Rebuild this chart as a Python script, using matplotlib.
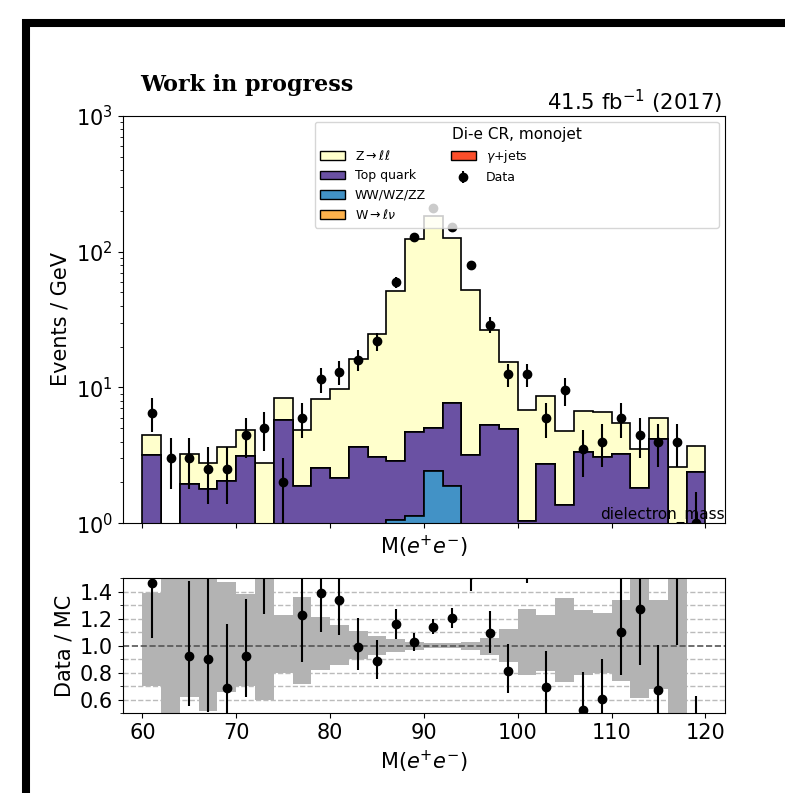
import numpy as np
import matplotlib
matplotlib.use("Agg")
import matplotlib.pyplot as plt
from matplotlib.lines import Line2D
from matplotlib.patches import Patch, Rectangle

# binning: 2 GeV bins from 60 to 120
edges = np.arange(60, 122, 2)
centers = edges[:-1] + 1

# MC components (Events / GeV)
w_lnu = [0.0] * 30
gamma_jets = [0.0] * 30
diboson = [0, 0, 0, 0, 0, 0, 0, 0, 0, 0, 0, 0, 0, 1.06, 1.13, 2.42, 1.88,
           0, 0, 0, 0, 0, 0, 0, 0, 0, 0, 0, 0, 0]
top_quark = [3.2, 0, 1.94, 1.78, 2.05, 3.11, 0, 5.72, 1.87, 2.55, 2.15, 3.64, 3.06, 1.80, 3.56,
             2.60, 5.79, 3.16, 5.26, 4.91, 1.04, 2.72, 1.37, 3.34, 3.07, 3.25, 1.83, 4.2, 0, 2.38]
z_ll = [1.25, 0.4, 1.31, 1.0, 1.57, 1.78, 2.78, 2.63, 3.02, 5.71, 7.57, 12.46, 21.74, 48.54, 119.31,
        178.98, 118.33, 48.54, 21.34, 10.49, 5.81, 5.91, 3.40, 3.35, 3.56, 2.21, 1.71, 1.75, 2.6, 1.32]

# data (Events / GeV)
data = [6.5, 3.0, 3.0, 2.5, 2.5, 4.5, 5.0, 2.0, 6.0, 11.5, 13.0, 16.0, 22.0, 59.5, 127.0,
        210.0, 151.5, 79.0, 29.0, 12.5, 12.5, 6.0, 9.5, 3.5, 4.0, 6.0, 4.5, 4.0, 4.0, 1.0]

# MC uncertainty band in the ratio (upper / lower edge)
band_hi = [1.39, 2.0, 2.0, 2.0, 1.47, 1.38, 2.0, 1.23, 1.36, 1.21, 1.15, 1.11, 1.07, 1.05, 1.03,
           1.02, 1.02, 1.03, 1.06, 1.12, 1.27, 1.23, 1.35, 1.26, 1.24, 1.34, 2.0, 1.34, 2.0, 1.0]
band_lo = [0.70, 0.0, 0.62, 0.52, 0.66, 0.70, 0.60, 0.80, 0.72, 0.82, 0.86, 0.90, 0.93, 0.95, 0.97,
           0.98, 0.98, 0.97, 0.93, 0.88, 0.78, 0.81, 0.73, 0.78, 0.80, 0.74, 0.61, 0.68, 0.0, 1.0]

labels = ["W$\\rightarrow\\ell\\nu$", "WW/WZ/ZZ", "Top quark", "$\\gamma$+jets", "Z$\\rightarrow\\ell\\ell$"]
colors = ["#feb24c", "#4292c6", "#6a51a3", "#fc4e2a", "#ffffcc"]

fig = plt.figure(figsize=(7.85, 7.93), dpi=100)
ax = fig.add_axes([0.1563, 0.3401, 0.7673, 0.5140])
rax = fig.add_axes([0.1563, 0.1005, 0.7673, 0.1706])

# ---- main panel
ax.set_yscale("log")
comps = [w_lnu, diboson, top_quark, gamma_jets, z_ll]
ax.hist([centers] * len(comps), bins=edges, weights=comps, stacked=True,
        histtype="stepfilled", color=colors, edgecolor="black", linewidth=1.2)

data = np.array(data)
nev = data * 2
ax.errorbar(centers, data, yerr=np.sqrt(nev) / 2, fmt="o", color="black",
            markersize=6, elinewidth=1.5, zorder=3)

ax.set_xlim(57.9, 122.1)
ax.set_ylim(1, 1000)
ax.set_ylabel("Events / GeV", fontsize=15)
ax.set_xlabel("M($e^{+}e^{-}$)", fontsize=15)
ax.tick_params(axis="x", labelbottom=False)
ax.tick_params(axis="y", labelsize=15)
ax.set_xticks(np.arange(60, 121, 10))
ax.text(1.0, 0.0, "dielectron_mass", transform=ax.transAxes, ha="right", va="bottom", fontsize=11)
ax.text(0.995, 1.0, "41.5 fb$^{-1}$ (2017)", transform=ax.transAxes, ha="right", va="bottom", fontsize=15.3)
fig.text(140 / 785, 1 - 91 / 793, "Work in progress", fontsize=16, fontweight="bold",
         family="serif", va="baseline")

dh = ax.errorbar([], [], yerr=[], fmt="o", color="black", markersize=6, elinewidth=1.5)
handles = [Patch(facecolor=colors[4], edgecolor="black"),
           Patch(facecolor=colors[2], edgecolor="black"),
           Patch(facecolor=colors[1], edgecolor="black"),
           Patch(facecolor=colors[0], edgecolor="black"),
           Patch(facecolor=colors[3], edgecolor="black"),
           dh,
           Line2D([], [], linestyle="none"),
           Line2D([], [], linestyle="none")]
leg_labels = [labels[4], labels[2], labels[1], labels[0], labels[3], "Data", " " * 57, ""]
ax.legend(handles, leg_labels, ncol=2, loc="upper right", fontsize=9,
          title="Di-e CR, monojet", title_fontsize=11)

# ---- ratio panel
mc_total = np.sum(comps, axis=0)
ratio = data / mc_total
n_lo = nev - np.sqrt(nev - 0.25)
n_hi = nev + 1 + np.sqrt(nev + 0.75)
err_lo = (nev - n_lo) / 2 / mc_total
err_hi = (n_hi - nev) / 2 / mc_total

for v in [0.6, 0.7, 0.8, 0.9, 1.1, 1.2, 1.3, 1.4]:
    rax.axhline(v, color="#bbbbbb", linestyle="--", linewidth=1, zorder=0)
rax.stairs(band_hi, edges, baseline=band_lo, fill=True, color="#b3b3b3", zorder=1)
rax.axhline(1.0, color="#555555", linestyle="--", linewidth=1.2, zorder=2)
rax.errorbar(centers, ratio, yerr=[err_lo, err_hi], fmt="o", color="black",
             markersize=6, elinewidth=1.5, zorder=3)

rax.set_xlim(57.9, 122.1)
rax.set_ylim(0.5, 1.5)
rax.set_yticks([0.6, 0.8, 1.0, 1.2, 1.4])
rax.set_yticks([0.5, 0.7, 0.9, 1.1, 1.3, 1.5], minor=True)
rax.set_xticks(np.arange(60, 121, 10))
rax.tick_params(labelsize=15)
rax.set_ylabel("Data / MC", fontsize=15)
rax.set_xlabel("M($e^{+}e^{-}$)", fontsize=15)

# black frame on the left and top
fig.add_artist(Rectangle((26 / 785, -0.5), 2, 0.5 + 1 - 23 / 793, transform=fig.transFigure,
                         fill=False, edgecolor="black", linewidth=5.8, clip_on=False))

fig.savefig("out.png", dpi=100)
